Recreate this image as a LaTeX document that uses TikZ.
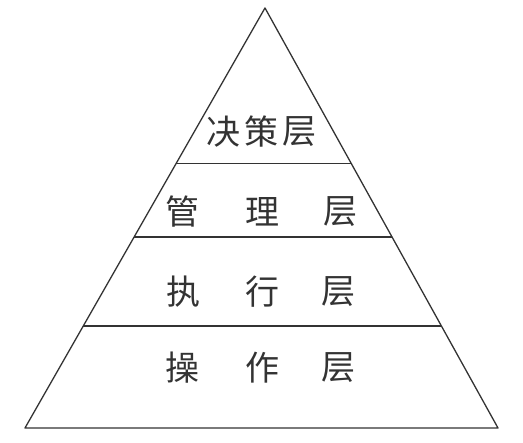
\documentclass[tikz,border=0pt]{standalone}
\usepackage{fontspec}
\newfontfamily\cjk{Noto Sans CJK SC}
\usepackage{tikz}
\usetikzlibrary{calc,positioning}

\tikzset{
  layer/.style={font=\cjk\fontsize{34}{34}\selectfont, text=black!80, inner sep=0pt},
  edge/.style={line width=1.3pt, color=black!80}
}

\begin{document}
\begin{tikzpicture}[x=1pt,y=-1pt]

  \useasboundingbox (0,0) rectangle (523,443);

  \coordinate (apex) at (265,8);
  \coordinate (bl) at (25,428);
  \coordinate (br) at (498,428);

  \draw[edge, line join=round] (apex) -- (bl) -- (br) -- cycle;

    \coordinate (l1) at ($(apex)!0.371!(bl)$);
    \coordinate (r1) at ($(apex)!0.371!(br)$);
    \coordinate (l2) at ($(apex)!0.545!(bl)$);
    \coordinate (r2) at ($(apex)!0.545!(br)$);
    \coordinate (l3) at ($(apex)!0.757!(bl)$);
    \coordinate (r3) at ($(apex)!0.757!(br)$);
            \draw[edge] (l1) -- (r1);
            \draw[edge] (l2) -- (r2);
            \draw[edge] (l3) -- (r3);

    \node[layer] (jue) at (223,132) {决};
    \node[layer] (ce) at (261,132) {策};
    \node[layer] (c1) at (299,132) {层};

    \node[layer] (guan) at (182,212) {管};
    \node[layer] (li) at (262,212) {理};
    \node[layer] (c2) at (340,212) {层};

    \node[layer] (zhi) at (183,292) {执};
    \node[layer] (xing) at (262,292) {行};
    \node[layer] (c3) at (338,292) {层};

    \node[layer] (cao) at (182,368) {操};
    \node[layer] (zuo) at (262,368) {作};
    \node[layer] (c4) at (338,368) {层};

\end{tikzpicture}
\end{document}
